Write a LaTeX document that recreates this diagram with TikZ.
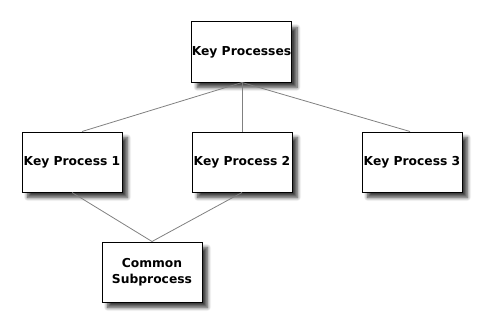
\documentclass[tikz,border=0pt]{standalone}
\usepackage{fontspec}
\setmainfont{DejaVu Sans}
\usetikzlibrary{shadows.blur}
\begin{document}
\begin{tikzpicture}[x=1pt,y=-1pt,
  procbox/.style={draw=black, line width=1pt, fill=white, minimum width=100pt, minimum height=60pt,
    inner sep=0pt, align=center, font=\bfseries\fontsize{12.3}{16.5}\selectfont,
    blur shadow={shadow xshift=5.5pt, shadow yshift=-5.5pt, shadow blur steps=8, shadow opacity=75, shadow blur radius=3.5pt}},
  conn/.style={draw=gray, line width=0.8pt}]
\useasboundingbox (0,0) rectangle (487,321);
\node[procbox] (top) at (241.5,52) {Key Processes};
\node[procbox] (kp1) at (72,162) {Key Process 1};
\node[procbox] (kp2) at (242,162) {Key Process 2};
\node[procbox] (kp3) at (412,162) {Key Process 3};
\node[procbox] (cs) at (152,272) {Common\\Subprocess};
\draw[conn] ([xshift=0.5pt]top.south) -- ([xshift=10pt]kp1.north);
\draw[conn] ([xshift=0.5pt]top.south) -- (kp2.north);
\draw[conn] ([xshift=0.5pt]top.south) -- ([xshift=-2pt]kp3.north);
\draw[conn] (kp1.south) -- (cs.north);
\draw[conn] (kp2.south) -- (cs.north);
\end{tikzpicture}
\end{document}
